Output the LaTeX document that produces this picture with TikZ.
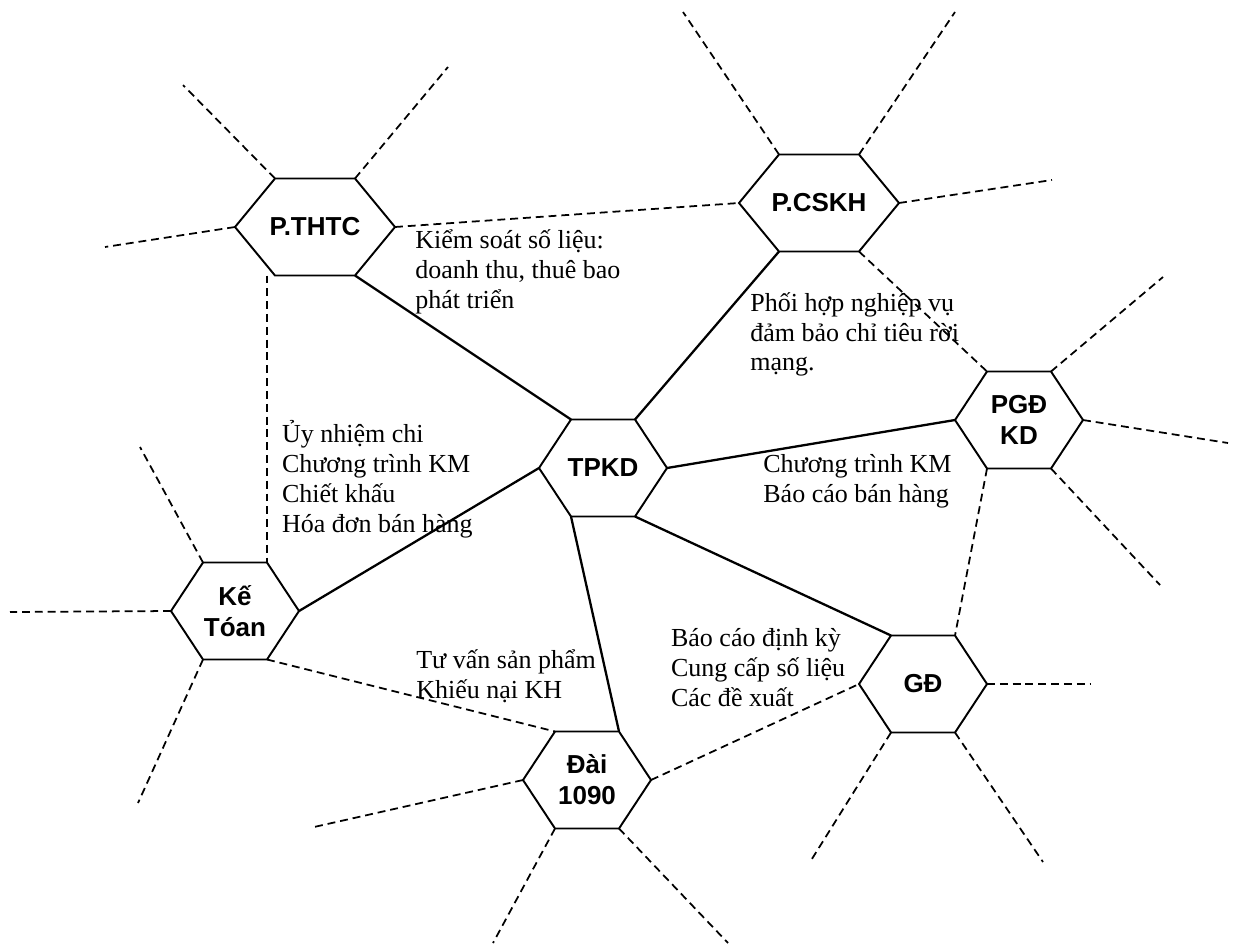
\documentclass[tikz,border=0pt]{standalone}
\usepackage{fontspec}
\setmainfont{Liberation Serif}
\newfontfamily\hexfont{Liberation Sans}
\usepackage{tikz}

\newcommand{\notesize}{\fontsize{14.8pt}{16.9pt}\selectfont}
\newcommand{\hexsize}{\fontsize{14.8pt}{17.6pt}\selectfont}

% hexagon: name, centre, half width, label
\newcommand{\hexbox}[4]{%
  \node[hexlabel] (#1) at (#2) {#4};
  \begin{scope}[shift={(#1)}]
    \draw[hexline] (-#3,0) coordinate (#1-w) -- (-#3/2,-48.5) coordinate (#1-nw)
      -- (#3/2,-48.5) coordinate (#1-ne) -- (#3,0) coordinate (#1-e)
      -- (#3/2,48.5) coordinate (#1-se) -- (-#3/2,48.5) coordinate (#1-sw) -- cycle;
  \end{scope}}

\begin{document}
\begin{tikzpicture}[x=0.02cm, y=-0.02cm,
  hexline/.style={line width=1.1pt, line join=miter},
  hexlabel/.style={font=\hexfont\hexsize\bfseries, align=center, inner sep=0pt},
  link/.style={line width=1.3pt},
  loose/.style={line width=1pt, dash pattern=on 4.5pt off 2.8pt},
  note/.style={anchor=base west, align=left, inner sep=0pt, font=\notesize}
]
  \useasboundingbox (0,0) rectangle (1239,947);

  \hexbox{thtc}{315,227}{80}{P.THTC}
  \hexbox{cskh}{819,203}{80}{P.CSKH}
  \hexbox{pgd}{1019,420}{64}{PGĐ\\KD}
  \hexbox{tpkd}{603,468}{64}{TPKD}
  \hexbox{ketoan}{235,611}{64}{Kế\\Tóan}
  \hexbox{dai}{587,780}{64}{Đài\\1090}
  \hexbox{gd}{923,684}{64}{GĐ}

  % TPKD to every unit
  \draw[link] (tpkd-nw) -- (thtc-se);
  \draw[link] (tpkd-ne) -- (cskh-sw);
  \draw[link] (tpkd-e) -- (pgd-w);
  \draw[link] (tpkd-w) -- (ketoan-e);
  \draw[link] (tpkd-sw) -- (dai-ne);
  \draw[link] (tpkd-se) -- (gd-nw);

  % between units
  \draw[loose] (thtc-e) -- (cskh-w);
  \draw[loose] (ketoan-ne |- thtc-sw) -- (ketoan-ne);
  \draw[loose] (cskh-se) -- (pgd-nw);
  \draw[loose] (pgd-sw) -- (gd-ne);
  \draw[loose] (ketoan-se) -- (dai-nw);
  \draw[loose] (dai-e) -- (gd-w);

  % open ends
  \foreach \from/\x/\y in {thtc-nw/183/85, thtc-ne/448/67, thtc-w/105/247,
      cskh-nw/683/12, cskh-ne/955/12, cskh-e/1052/180,
      pgd-ne/1163/277, pgd-e/1228/443, pgd-se/1160/585,
      ketoan-nw/140/447, ketoan-w/10/612, ketoan-sw/138/803,
      dai-w/314/827, dai-sw/493/943, dai-se/728/943,
      gd-e/1090/684, gd-sw/810/862, gd-se/1043/862}
    \draw[loose] (\from) -- (\x,\y) coordinate (\from-end);

  % notes, placed by the baseline of their last line
  \node[note] (kiemsoat) at (415,308) {Kiểm soát số liệu:\\doanh thu, thuê bao\\phát triển};
  \node[note] (phoihop) at (750,370.7) {Phối hợp nghiệp vụ\\đảm bảo chỉ tiêu rời\\mạng.};
  \node[note] (uynhiem) at (281.7,532) {Ủy nhiệm chi\\Chương trình KM\\Chiết khấu\\Hóa đơn bán hàng};
  \node[note] (ctkm) at (763,502) {Chương trình KM\\Báo cáo bán hàng};
  \node[note] (baocao) at (670.7,706) {Báo cáo định kỳ\\Cung cấp số liệu\\Các đề xuất};
  \node[note] (tuvan) at (416,698) {Tư vấn sản phẩm\\Khiếu nại KH};
\end{tikzpicture}
\end{document}
